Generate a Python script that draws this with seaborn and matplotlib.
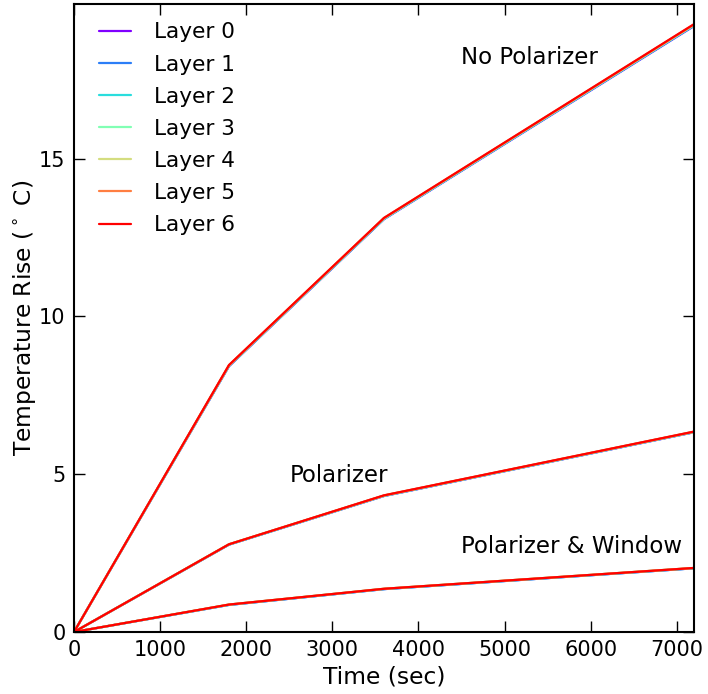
import numpy as np
import pandas as pd
import matplotlib
matplotlib.use("Agg")
import matplotlib.pyplot as plt
import seaborn as sns

# Time samples (sec)
times = [0, 1800, 3600, 7200]
layers = ["Layer 0", "Layer 1", "Layer 2", "Layer 3", "Layer 4", "Layer 5", "Layer 6"]

# Temperature rise per layer (rows) at each time, for each setup
no_polarizer = [
    [0, 8.42, 13.08, 19.20],
    [0, 8.43, 13.09, 19.21],
    [0, 8.43, 13.09, 19.22],
    [0, 8.44, 13.10, 19.23],
    [0, 8.45, 13.11, 19.24],
    [0, 8.45, 13.12, 19.25],
    [0, 8.46, 13.12, 19.26],
]
polarizer = [
    [0, 2.77, 4.31, 6.33],
    [0, 2.77, 4.31, 6.33],
    [0, 2.77, 4.32, 6.34],
    [0, 2.78, 4.32, 6.34],
    [0, 2.78, 4.32, 6.34],
    [0, 2.78, 4.33, 6.35],
    [0, 2.78, 4.33, 6.35],
]
pol_window = [
    [0, 0.86, 1.36, 2.02],
    [0, 0.86, 1.36, 2.02],
    [0, 0.86, 1.36, 2.02],
    [0, 0.87, 1.37, 2.03],
    [0, 0.87, 1.37, 2.03],
    [0, 0.87, 1.37, 2.03],
    [0, 0.87, 1.37, 2.03],
]

setups = {"No Polarizer": no_polarizer, "Polarizer": polarizer, "Polarizer & Window": pol_window}
rows = []
for setup, vals in setups.items():
    for layer, series in zip(layers, vals):
        for t, v in zip(times, series):
            rows.append({"time": t, "rise": v, "layer": layer, "setup": setup})
df = pd.DataFrame(rows)

sns.set_style("ticks")
plt.rcParams["font.family"] = ["DejaVu Sans"]
plt.rcParams["mathtext.fontset"] = "dejavusans"
plt.rcParams["text.color"] = "black"
plt.rcParams["axes.labelcolor"] = "black"
plt.rcParams["xtick.color"] = "black"
plt.rcParams["ytick.color"] = "black"

colors = [plt.cm.rainbow(i) for i in np.linspace(0, 1, len(layers))]

fig = plt.figure(figsize=(7.08, 6.94), dpi=100)
ax = fig.add_axes([0.1045, 0.0893, 0.8757, 0.905])
sns.lineplot(data=df, x="time", y="rise", hue="layer", units="setup", estimator=None,
             palette=colors, linewidth=1.6, ax=ax, legend=True)

ax.text(4500, 18, "No Polarizer", fontsize=16.5, color="black")
ax.text(2500, 4.75, "Polarizer", fontsize=16.5, color="black")
ax.text(4500, 2.5, "Polarizer & Window", fontsize=16.5, color="black")

ax.set_xlim(0, 7200)
ax.set_ylim(0, 19.9)
ax.set_xticks([0, 1000, 2000, 3000, 4000, 5000, 6000, 7000])
ax.set_yticks([0, 5, 10, 15])
ax.set_xlabel("Time (sec)", fontsize=16.8)
ax.set_ylabel("Temperature Rise ($^\\circ$ C)", fontsize=16.8, labelpad=1)
ax.tick_params(direction="in", top=True, right=True, length=8, width=1, labelsize=15, pad=6)
for s in ax.spines.values():
    s.set_linewidth(1.5)
    s.set_color("black")

leg = ax.legend(loc="upper left", bbox_to_anchor=(0.0105, 1.0), frameon=False, fontsize=15.6,
                handlelength=1.5, labelspacing=0.56, handletextpad=1.05, borderaxespad=0.45)

fig.savefig("out.png", dpi=100)
